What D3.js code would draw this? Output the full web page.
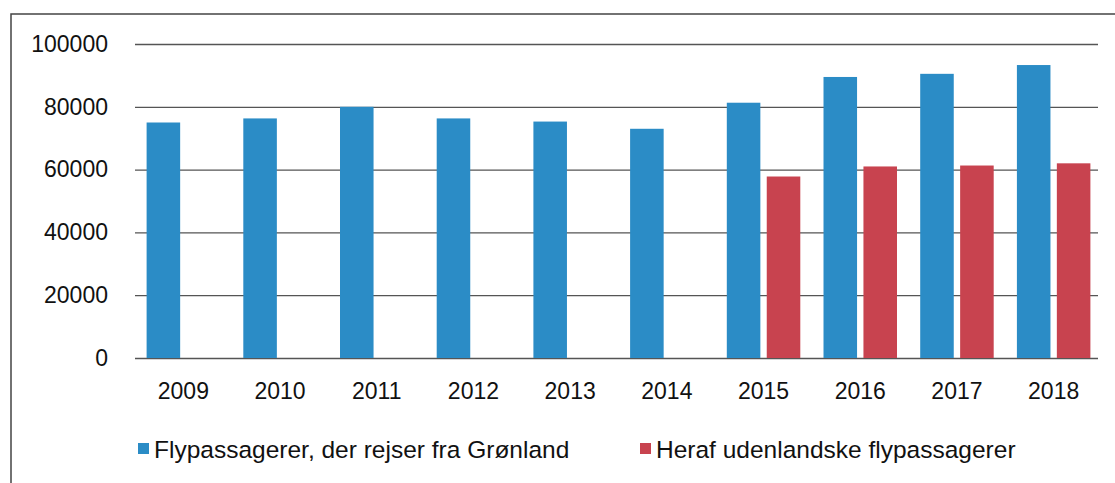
<!DOCTYPE html>
<html>
<head>
<meta charset="utf-8">
<style>
  body { margin: 0; background: #fff; }
  svg { display: block; }
</style>
</head>
<body>
<div id="container"></div>
<script src="https://d3js.org/d3.v7.min.js"></script>
<script>
  // data
  const years = ["2009", "2010", "2011", "2012", "2013", "2014", "2015", "2016", "2017", "2018"];
  const fromGreenland = [75000, 76300, 80000, 76300, 75300, 73000, 81300, 89500, 90500, 93300];
  const foreigners = [null, null, null, null, null, null, 57800, 61000, 61300, 62000];
  const yTicks = [0, 20000, 40000, 60000, 80000, 100000];
  const seriesNames = ["Flypassagerer, der rejser fra Grønland", "Heraf udenlandske flypassagerer"];
  const colors = ["#2b8cc6", "#c8434f"];

  const W = 1115, H = 483;
  const plot = { left: 135, right: 1102, top: 44, bottom: 358 };

  const svg = d3.select("#container")
    .append("svg")
    .attr("width", W)
    .attr("height", H)
    .style("font-family", "'Liberation Sans', Arial, sans-serif");

  // outer chart frame (only top and left visible in the scan)
  svg.append("path")
    .attr("d", `M11,${H} V14 H${W}`)
    .attr("fill", "none")
    .attr("stroke", "#444")
    .attr("stroke-width", 1.5);

  const x = d3.scaleBand()
    .domain(years)
    .range([plot.left, plot.right])
    .paddingInner(0.24)
    .paddingOuter(0.12);

  const xs = d3.scaleBand()
    .domain([0, 1])
    .range([0, x.bandwidth()])
    .paddingInner(0.16);

  const y = d3.scaleLinear()
    .domain([0, 100000])
    .range([plot.bottom, plot.top]);

  // gridlines + y labels
  const yAxis = svg.append("g")
    .attr("transform", `translate(${plot.left},0)`)
    .call(d3.axisLeft(y).tickValues(yTicks).tickSize(-(plot.right - plot.left - 4)).tickFormat(d3.format("d")).tickPadding(27));
  yAxis.select(".domain").remove();
  yAxis.selectAll(".tick line").attr("stroke", "#555").attr("stroke-width", 1.3);
  yAxis.selectAll(".tick text").attr("fill", "#111").attr("font-size", 23);

  const groups = svg.append("g")
    .selectAll("g")
    .data(years)
    .join("g")
    .attr("transform", d => `translate(${x(d)},0)`);

  groups.append("rect")
    .attr("x", xs(0))
    .attr("width", xs.bandwidth())
    .attr("y", (d, i) => y(fromGreenland[i]))
    .attr("height", (d, i) => y(0) - y(fromGreenland[i]))
    .attr("fill", colors[0]);

  groups.filter((d, i) => foreigners[i] != null)
    .append("rect")
    .attr("x", xs(1))
    .attr("width", xs.bandwidth())
    .attr("y", d => y(foreigners[years.indexOf(d)]))
    .attr("height", d => y(0) - y(foreigners[years.indexOf(d)]))
    .attr("fill", colors[1]);

  // x labels
  const xAxis = svg.append("g")
    .attr("transform", `translate(0,${plot.bottom})`)
    .call(d3.axisBottom(x).tickSize(0).tickPadding(25));
  xAxis.select(".domain").remove();
  xAxis.selectAll(".tick text").attr("fill", "#111").attr("font-size", 23);

  // legend
  const legendX = [138, 640];
  const legend = svg.append("g")
    .selectAll("g")
    .data(seriesNames)
    .join("g")
    .attr("transform", (d, i) => `translate(${legendX[i]},449)`);

  legend.append("rect")
    .attr("x", 0)
    .attr("y", -6)
    .attr("width", 11)
    .attr("height", 11)
    .attr("fill", (d, i) => colors[i]);

  legend.append("text")
    .attr("x", 16)
    .attr("y", 0)
    .attr("dy", "0.35em")
    .attr("font-size", 24.5)
    .attr("fill", "#111")
    .text(d => d);
</script>
</body>
</html>
